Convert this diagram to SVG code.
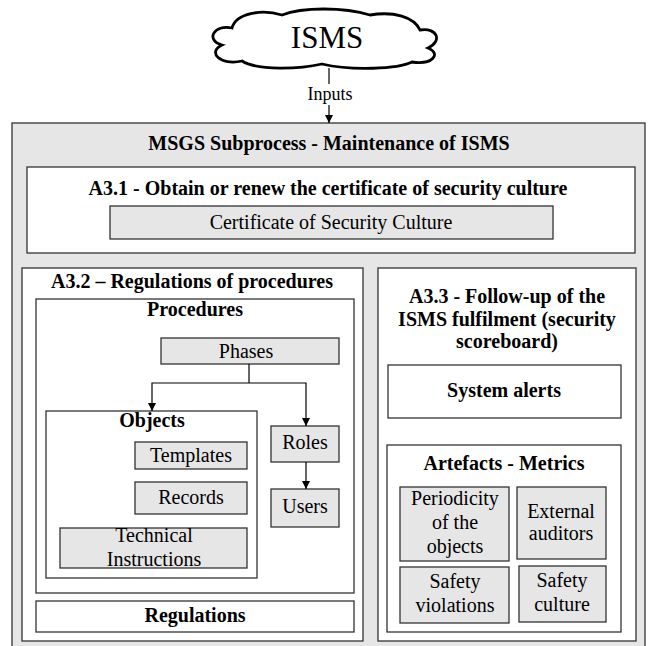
<svg xmlns="http://www.w3.org/2000/svg" width="649" height="646" viewBox="0 0 649 646">
  <style>
    .t { font-family: "Liberation Serif", "Times New Roman", serif; fill: #000; text-anchor: middle; }
    .b { font-weight: bold; font-size: 20px; }
    .r { font-size: 20px; }
    .panel { fill: #ffffff; stroke: #333333; stroke-width: 1.3; }
    .item { fill: #e6e6e6; stroke: #333333; stroke-width: 1.3; }
    .link { fill: none; stroke: #000; stroke-width: 1.2; }
  </style>
  <defs>
    <marker id="arrow" viewBox="0 0 10 10" refX="10" refY="5" markerWidth="8" markerHeight="8" markerUnits="userSpaceOnUse" orient="auto">
      <path d="M0,0 L10,5 L0,10 Z" fill="#000"/>
    </marker>
  </defs>
  <rect width="649" height="646" fill="#ffffff"/>

  <!-- ISMS cloud -->
  <g id="isms">
    <path d="M 232 28 C 214 24 205 40 222 45 C 207 52 220 66 242 61 C 258 71 300 69 322 64 C 352 71 398 69 412 62 C 432 65 442 54 428 48 C 443 41 437 27 420 30 C 414 17 394 11 370 15 C 344 7 302 7 282 15 C 262 9 236 13 232 28 Z" fill="#ffffff" stroke="#000" stroke-width="2.8"/>
    <text class="t" x="327" y="48" font-size="31">ISMS</text>
  </g>

  <!-- MSGS subprocess frame -->
  <g id="msgs">
    <rect x="12" y="123" width="633" height="540" fill="#e6e6e6" stroke="#333333" stroke-width="1.3"/>
    <text class="t b" x="329" y="150">MSGS Subprocess - Maintenance of ISMS</text>
  </g>

  <!-- A3.1 -->
  <g id="a31">
    <rect class="panel" x="27" y="167" width="608" height="86"/>
    <text class="t b" x="328" y="195" font-size="20.5">A3.1 - Obtain or renew the certificate of security culture</text>
  </g>
  <g id="certificate">
    <rect class="item" x="110" y="206" width="443" height="33"/>
    <text class="t r" x="331" y="229">Certificate of Security Culture</text>
  </g>

  <!-- A3.2 -->
  <g id="a32">
    <rect class="panel" x="22" y="268" width="341" height="373"/>
    <text class="t b" x="192" y="288">A3.2 – Regulations of procedures</text>
  </g>
  <g id="procedures">
    <rect class="panel" x="36" y="299" width="318" height="294"/>
    <text class="t b" x="195" y="316">Procedures</text>
  </g>
  <g id="phases">
    <rect class="item" x="161" y="338" width="178" height="26"/>
    <text class="t r" x="246" y="358" font-size="22">Phases</text>
  </g>
  <g id="objects">
    <rect class="panel" x="46" y="411" width="211" height="167"/>
    <text class="t b" x="152" y="427">Objects</text>
  </g>
  <g id="templates">
    <rect class="item" x="135" y="442" width="112" height="27"/>
    <text class="t r" x="191" y="462">Templates</text>
  </g>
  <g id="records">
    <rect class="item" x="135" y="482" width="112" height="32"/>
    <text class="t r" x="191" y="504">Records</text>
  </g>
  <g id="technical-instructions">
    <rect class="item" x="60" y="528" width="187" height="40"/>
    <text class="t r" x="154" y="542">Technical</text>
    <text class="t r" x="154" y="566">Instructions</text>
  </g>
  <g id="roles">
    <rect class="item" x="271" y="426" width="68" height="36"/>
    <text class="t r" x="305" y="449" font-size="22">Roles</text>
  </g>
  <g id="users">
    <rect class="item" x="271" y="489" width="68" height="38"/>
    <text class="t r" x="305" y="513">Users</text>
  </g>
  <g id="regulations">
    <rect class="panel" x="36" y="601" width="318" height="31"/>
    <text class="t b" x="195" y="622">Regulations</text>
  </g>

  <!-- A3.3 -->
  <g id="a33">
    <rect class="panel" x="378" y="268" width="258" height="373"/>
    <text class="t b" x="507" y="303">A3.3 - Follow-up of the</text>
    <text class="t b" x="507" y="326">ISMS fulfilment (security</text>
    <text class="t b" x="507" y="348">scoreboard)</text>
  </g>
  <g id="system-alerts">
    <rect class="panel" x="388" y="365" width="233" height="53"/>
    <text class="t b" x="504" y="397">System alerts</text>
  </g>
  <g id="artefacts">
    <rect class="panel" x="387" y="445" width="234" height="187"/>
    <text class="t b" x="504" y="470">Artefacts - Metrics</text>
  </g>
  <g id="periodicity">
    <rect class="item" x="400" y="487" width="109" height="74"/>
    <text class="t r" x="455" y="505">Periodicity</text>
    <text class="t r" x="455" y="529">of the</text>
    <text class="t r" x="455" y="553">objects</text>
  </g>
  <g id="external-auditors">
    <rect class="item" x="517" y="487" width="89" height="72"/>
    <text class="t r" x="561" y="518">External</text>
    <text class="t r" x="561" y="540">auditors</text>
  </g>
  <g id="safety-violations">
    <rect class="item" x="400" y="567" width="109" height="56"/>
    <text class="t r" x="455" y="588">Safety</text>
    <text class="t r" x="455" y="612">violations</text>
  </g>
  <g id="safety-culture">
    <rect class="item" x="519" y="566" width="87" height="56"/>
    <text class="t r" x="562" y="587">Safety</text>
    <text class="t r" x="562" y="611">culture</text>
  </g>

  <!-- connectors -->
  <g id="connectors">
    <line class="link" x1="329" y1="68" x2="329" y2="84"/>
    <text class="t" x="330" y="100" font-size="18">Inputs</text>
    <line class="link" x1="329" y1="105" x2="329" y2="123" marker-end="url(#arrow)"/>
    <line class="link" x1="249" y1="364" x2="249" y2="383"/>
    <polyline class="link" points="249,383 152,383 152,411" marker-end="url(#arrow)"/>
    <polyline class="link" points="249,383 306,383 306,426" marker-end="url(#arrow)"/>
    <line class="link" x1="306" y1="462" x2="306" y2="489" marker-end="url(#arrow)"/>
  </g>
</svg>
